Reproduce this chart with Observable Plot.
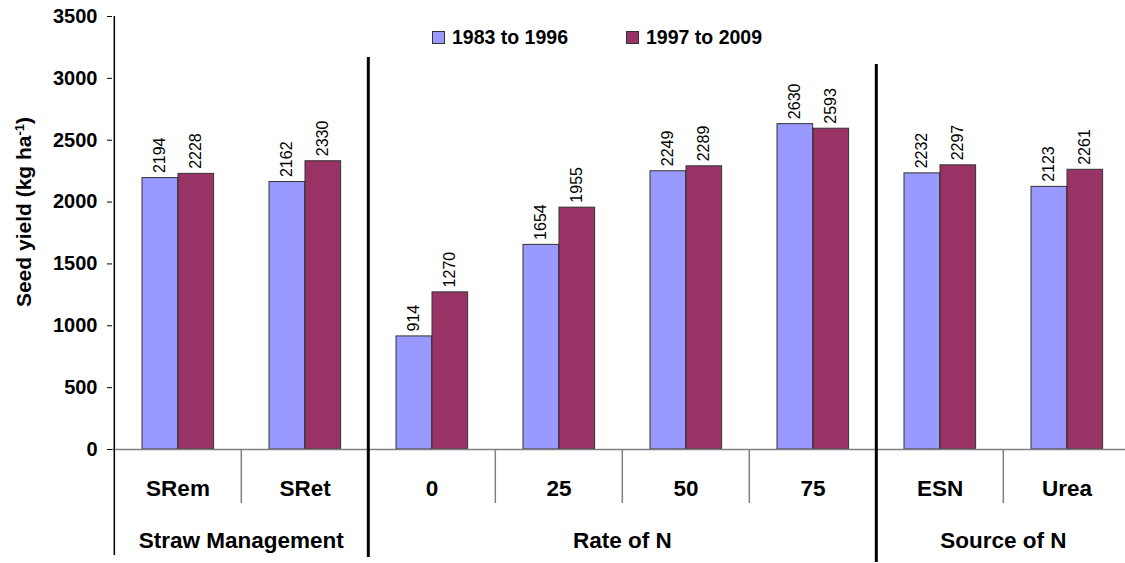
<!DOCTYPE html>
<html>
<head>
<meta charset="utf-8">
<script src="https://cdn.jsdelivr.net/npm/d3@7"></script>
<script src="https://cdn.jsdelivr.net/npm/@observablehq/plot@0.6"></script>
<style>
  html, body { margin: 0; padding: 0; background: #fff; }
  #wrap { position: relative; width: 1125px; height: 563px; overflow: hidden; font-family: "Liberation Sans", Arial, sans-serif; }
  #legend { position: absolute; left: 432px; top: 26px; display: flex; gap: 58px; font: bold 19.5px "Liberation Sans", Arial, sans-serif; line-height: 22px; color: #000; }
  #legend .item { display: flex; align-items: center; }
  #legend .sw { width: 11px; height: 11px; border: 1px solid #333; margin-right: 7px; }
</style>
</head>
<body>
<div id="wrap"><div id="legend"></div></div>
<script>
// ---- data ----
const categories = ["SRem", "SRet", "0", "25", "50", "75", "ESN", "Urea"];
const groups = ["Straw Management", "Rate of N", "Source of N"];
const groupCategories = [["SRem", "SRet"], ["0", "25", "50", "75"], ["ESN", "Urea"]];
const series = ["1983 to 1996", "1997 to 2009"];
const yield1983to1996 = [2194, 2162, 914, 1654, 2249, 2630, 2232, 2123];
const yield1997to2009 = [2228, 2330, 1270, 1955, 2289, 2593, 2297, 2261];
const yTicks = [0, 500, 1000, 1500, 2000, 2500, 3000, 3500];
const yTitle = "Seed yield (kg ha-1)";
const seriesColors = ["#9999FF", "#993366"];

// ---- table ----
const rows = categories.flatMap((c, i) => [
  {category: c, series: series[0], value: yield1983to1996[i]},
  {category: c, series: series[1], value: yield1997to2009[i]}
]);
const s0 = rows.filter(d => d.series === series[0]);
const s1 = rows.filter(d => d.series === series[1]);
const groupFirst = groupCategories.map(g => g[0]);
const thinSeps = categories.filter(c => !groupFirst.includes(c));
const groupLabelRows = groups.map((g, i) => ({name: g, at: groupCategories[i][groupCategories[i].length / 2]}));

// ---- layout ----
const W = 1125, H = 563, mL = 112, mR = -6, mT = 16, mB = 114;
const bw = (W - mL - mR) / categories.length;
const barW = 36, gapL = 28;
const font = "Liberation Sans, Arial, sans-serif";

const plot = Plot.plot({
  width: W, height: H,
  marginLeft: mL, marginRight: mR, marginTop: mT, marginBottom: mB,
  style: {fontFamily: font, background: "transparent", color: "#000", overflow: "visible"},
  x: {domain: categories, padding: 0, axis: null},
  y: {domain: [0, 3500], axis: null},
  color: {domain: series, range: seriesColors},
  marks: [
    Plot.barY(s0, {x: "category", y: "value", fill: "series", stroke: "#333", strokeWidth: 1,
      insetLeft: gapL, insetRight: bw - gapL - barW}),
    Plot.barY(s1, {x: "category", y: "value", fill: "series", stroke: "#333", strokeWidth: 1,
      insetLeft: gapL + barW, insetRight: bw - gapL - 2 * barW}),
    Plot.text(s0, {x: "category", y: "value", text: d => String(d.value), rotate: -90,
      textAnchor: "start", lineAnchor: "middle", dy: -5, dx: gapL + barW / 2 - bw / 2,
      fontSize: 16, fill: "#000"}),
    Plot.text(s1, {x: "category", y: "value", text: d => String(d.value), rotate: -90,
      textAnchor: "start", lineAnchor: "middle", dy: -5, dx: gapL + 1.5 * barW - bw / 2,
      fontSize: 16, fill: "#000"}),
    Plot.ruleY([0], {stroke: "#808080", strokeWidth: 1.5}),
    // thin category separators below the axis
    Plot.ruleX(thinSeps, {x: d => d, y1: 0, y2: 0, dx: -bw / 2, insetBottom: -54,
      stroke: "#808080", strokeWidth: 1.5}),
    // thick group separators
    Plot.ruleX([groupFirst[1]], {x: d => d, dx: -bw / 2, insetTop: 41, insetBottom: -108,
      stroke: "#000", strokeWidth: 3}),
    Plot.ruleX([groupFirst[2]], {x: d => d, dx: -bw / 2, insetTop: 48, insetBottom: -113,
      stroke: "#000", strokeWidth: 3}),
    // y axis line
    Plot.ruleX([categories[0]], {x: d => d, dx: -bw / 2, insetBottom: -106,
      stroke: "#000", strokeWidth: 1.5}),
    Plot.axisY({ticks: yTicks, tickSize: 5, tickPadding: 10, fontSize: 20, fontWeight: "bold",
      label: null, tickFormat: d => String(d)}),
    // category labels
    Plot.text(categories, {x: d => d, frameAnchor: "bottom", dy: 39, lineAnchor: "middle",
      fontSize: 22.5, fontWeight: "bold", fill: "#000"}),
    // group labels
    Plot.text(groupLabelRows, {x: "at", text: "name", frameAnchor: "bottom", dx: -bw / 2, dy: 91,
      lineAnchor: "middle", fontSize: 22.5, fontWeight: "bold", fill: "#000"}),
    // y title
    Plot.text([yTitle], {frameAnchor: "left", rotate: -90, dx: -88, dy: -21, lineAnchor: "middle",
      textAnchor: "middle", fontSize: 21, fontWeight: "bold", fill: "#000"})
  ]
});

// superscript in y title
d3.select(plot).selectAll("text").filter(function() { return this.textContent === yTitle; })
  .each(function() {
    const t = d3.select(this);
    t.text(null);
    t.append("tspan").text("Seed yield (kg ha");
    t.append("tspan").attr("baseline-shift", "super").attr("font-size", "13px").text("-1");
    t.append("tspan").text(")");
  });

const wrap = document.getElementById("wrap");
wrap.insertBefore(plot, wrap.firstChild);

const legend = d3.select("#legend");
series.forEach((s, i) => {
  const item = legend.append("div").attr("class", "item");
  item.append("div").attr("class", "sw").style("background", seriesColors[i]);
  item.append("span").text(s);
});
</script>
</body>
</html>
